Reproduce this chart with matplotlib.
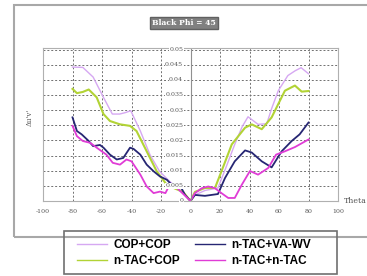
import matplotlib.pyplot as plt
from matplotlib.patches import Rectangle

# data
th_cop = [-80, -73, -66, -59, -53, -48, -44, -40.5, -34, -27.5, -21, -14, -8, -3, 0,
          3, 10, 18.6, 24, 30, 35, 39, 45.8, 51.7, 55, 59.5, 66, 71, 75, 80]
cop_cop = [0.0442, 0.0441, 0.0409, 0.0342, 0.0287, 0.0287, 0.0292, 0.0298, 0.0231, 0.0153, 0.0098, 0.0064, 0.004, 0.0015, 0.0,
           0.002, 0.0035, 0.0043, 0.011, 0.0187, 0.0245, 0.0278, 0.0253, 0.0255, 0.0305, 0.0364, 0.0414, 0.043, 0.044, 0.042]

th_tcop = [-80, -77, -73, -69, -63.6, -59, -54.6, -47.8, -41, -36.6, -29.7, -22.9, -16, -10, -5, 0,
           3, 9.8, 16.6, 21, 28, 37, 41.5, 48.3, 55, 64, 70.8, 75.4, 80]
tac_cop = [0.037, 0.0356, 0.036, 0.0368, 0.0342, 0.0287, 0.0264, 0.0253, 0.0248, 0.0231, 0.0164, 0.0098, 0.0053, 0.004, 0.003, 0.0,
           0.003, 0.0043, 0.0043, 0.0098, 0.0187, 0.0242, 0.0253, 0.0237, 0.0276, 0.0364, 0.0381, 0.0361, 0.0363]

th_vawv = [-80, -77, -73.8, -69, -66, -61.4, -59, -54.6, -50, -45.6, -41, -38.6, -34, -29.7, -25, -20.7, -16,
           -11.6, -7, -3.7, 0, 3, 9.8, 18.6, 23.4, 30, 37, 41.5, 48.3, 55, 61.8, 68.6, 74, 80]
tac_vawv = [0.0276, 0.0231, 0.022, 0.0198, 0.0181, 0.0185, 0.0176, 0.0153, 0.0137, 0.0142, 0.0176, 0.0172, 0.0153, 0.012, 0.0098, 0.0081, 0.007,
            0.0048, 0.005, 0.002, 0.0, 0.002, 0.0017, 0.0023, 0.0076, 0.0131, 0.0167, 0.016, 0.0131, 0.0111, 0.0164, 0.0198, 0.022, 0.0259]

th_tac = [-80, -77, -73, -68, -63.6, -57, -52.7, -47.8, -43.4, -40, -34, -29.7, -25, -20.7, -17, -14.5, -11.6, -7, 0,
          3, 7.6, 12, 16.6, 21, 25.6, 30, 34.7, 40.3, 45.8, 52.7, 58, 64, 70.8, 80]
tac_tac = [0.0248, 0.0214, 0.0198, 0.0192, 0.0176, 0.0153, 0.0126, 0.012, 0.0137, 0.0131, 0.0087, 0.0048, 0.0026, 0.0031, 0.0026, 0.005, 0.0054, 0.0033, 0.0,
           0.0026, 0.0042, 0.0048, 0.0042, 0.0026, 0.001, 0.001, 0.0053, 0.0099, 0.0087, 0.0109, 0.0153, 0.0164, 0.0178, 0.0203]

labels = ['COP+COP', 'n-TAC+COP', 'n-TAC+VA-WV', 'n-TAC+n-TAC']
colors = ['#d6a8f2', '#b2d335', '#262673', '#e03cd6']
xticks = list(range(-100, 101, 20))
yticks = [0.0, 0.005, 0.01, 0.015, 0.02, 0.025, 0.03, 0.035, 0.04, 0.045, 0.05]
ylabels = ['0', '0.005', '0.01', '0.015', '0.02', '0.025', '0.03', '0.035', '0.04', '0.045', '0.05']

W, H = 367, 276
fig = plt.figure(figsize=(W / 100, H / 100), dpi=100)
fig.patch.set_facecolor('white')

# outer gray frame of the chart area
fig.patches.append(Rectangle((14 / W, 39 / H), 1.2, 232 / H, transform=fig.transFigure,
                             fill=False, edgecolor='#a8a8a8', linewidth=1.5))
# legend box
fig.patches.append(Rectangle((64 / W, 2 / H), 273 / W, 43 / H, transform=fig.transFigure,
                             fill=False, edgecolor='#707070', linewidth=1.2))

ax = fig.add_axes([43 / W, 75 / H, 295 / W, 153 / H])
ax.set_xlim(-100, 100)
ax.set_ylim(0, 0.0505)

lines = []
lines += ax.plot(th_cop, cop_cop, color=colors[0], lw=1.0)
lines += ax.plot(th_tcop, tac_cop, color=colors[1], lw=1.5)
lines += ax.plot(th_vawv, tac_vawv, color=colors[2], lw=1.3)
lines += ax.plot(th_tac, tac_tac, color=colors[3], lw=1.3)

ax.set_xticks(xticks)
ax.set_xticklabels([str(t) for t in xticks], fontsize=4.5, family='DejaVu Serif', color='#555555')
ax.set_yticks(yticks)
ax.set_yticklabels([])
ax.tick_params(axis='both', length=0, pad=6)
ax.grid(True, linestyle=(0, (2, 2)), color='#707070', linewidth=0.7)
for sp in ax.spines.values():
    sp.set_color('#b0b0b0')
ax.axvline(0, color='#909090', lw=0.8)
for v, s in zip(yticks, ylabels):
    ax.text(-5, v, s, ha='right', va='center', fontsize=4.5, family='DejaVu Serif',
            color='#555555', bbox=dict(facecolor='white', edgecolor='none', pad=0.3))

fig.text(30 / W, 1 - 117 / H, "\u0394u'v'", rotation=90, ha='center', va='center',
         fontsize=5, family='DejaVu Serif', color='#555555')
fig.text(344 / W, 1 - 201 / H, 'Theta', ha='left', va='center',
         fontsize=5.6, family='DejaVu Serif', color='#555555')
fig.text(184 / W, 1 - 23 / H, 'Black Phi = 45', ha='center', va='center',
         fontsize=5.5, family='DejaVu Serif', weight='bold', color='white',
         bbox=dict(facecolor='#808080', edgecolor='#606060', pad=1.5))

leg = fig.legend(lines, labels, ncol=2, loc='upper left', bbox_to_anchor=(77 / W, 1 - 239 / H),
                 frameon=False, handlelength=2.55, columnspacing=1.3,
                 handletextpad=0.5, labelspacing=0.35, borderpad=0, borderaxespad=0,
                 prop={'family': 'Liberation Sans', 'weight': 'bold', 'size': 8.5})
for h in leg.get_lines():
    h.set_linewidth(1.0)

fig.savefig('out.png', dpi=100)
